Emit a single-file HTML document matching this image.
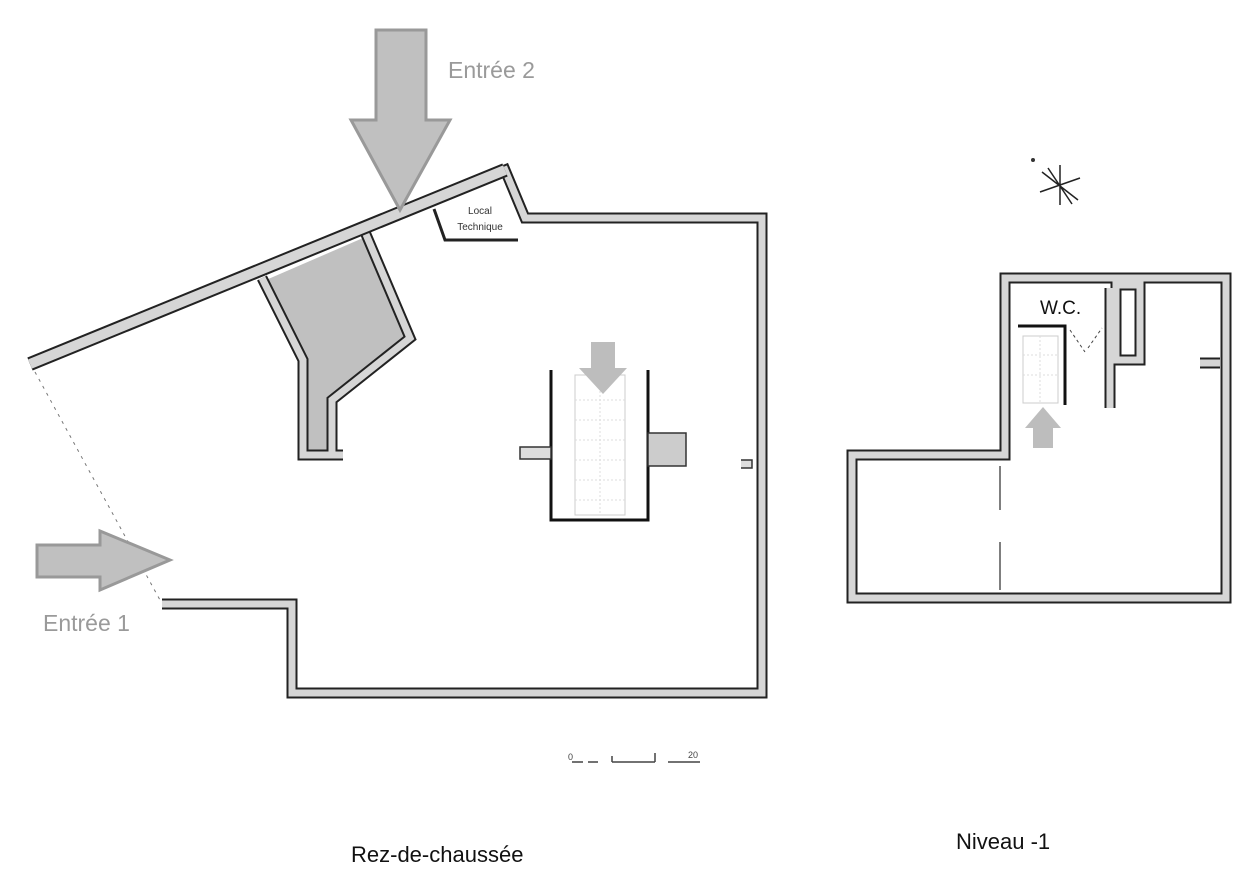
<!DOCTYPE html>
<html><head><meta charset="utf-8"><style>
html,body{margin:0;padding:0;background:#fff;}
svg{display:block;}
text{font-family:"Liberation Sans","DejaVu Sans",sans-serif;}
</style></head><body>
<svg width="1244" height="882" viewBox="0 0 1244 882" xmlns="http://www.w3.org/2000/svg">
<defs>
 <g id="gw">
 <path d="M30,364 L505,170 L525,218 L762,218 L762,693 L292,693 L292,604 L162,604"/>
 <path d="M262,278 L303,360 L303,455 L343,455 M365,232 L410,338 L332,400 L332,452"/>
 <path d="M852,455 L1005,455 L1005,278 L1226,278 L1226,598 L852,598 Z"/>
 <path d="M1110,288 L1110,408 M1116,285 L1140,285 L1140,360 L1116,360 Z M1200,363 L1220,363"/>
 </g>
</defs>
<!-- shaded room -->
<polygon points="266,280 363,238 406,336 328,398 328,452 307,452 307,360" fill="#c0c0c0"/>
<use href="#gw" stroke="#222" stroke-width="11" fill="none"/>
<use href="#gw" stroke="#d6d6d6" stroke-width="7" fill="none"/>
<path d="M30,364 L505,170" stroke="#222" stroke-width="14" fill="none"/>
<path d="M30,364 L505,170" stroke="#d6d6d6" stroke-width="10" fill="none"/>
<!-- local technique -->
<path d="M434,209 L445,240 L518,240" fill="none" stroke="#222" stroke-width="3"/>
<text x="480" y="214" font-size="10" text-anchor="middle" fill="#333">Local</text>
<text x="480" y="230" font-size="10" text-anchor="middle" fill="#333">Technique</text>
<!-- open side dotted -->
<path d="M35,372 L160,600" stroke="#777" stroke-width="1" stroke-dasharray="3,5" fill="none"/>
<!-- stairs ground -->
<rect x="575" y="375" width="50" height="140" fill="none" stroke="#ccc" stroke-width="1"/>
<path d="M600,375 V515 M575,400 H625 M575,420 H625 M575,440 H625 M575,460 H625 M575,480 H625 M575,500 H625" stroke="#ddd" stroke-width="1" stroke-dasharray="2,2"/>
<path d="M551,370 V520 H648 V370" fill="none" stroke="#111" stroke-width="3"/>
<rect x="520" y="447" width="31" height="12" fill="#ddd" stroke="#333" stroke-width="1.5"/>
<rect x="648" y="433" width="38" height="33" fill="#ccc" stroke="#333" stroke-width="1.5"/>
<path d="M741,460 H752 V468 H741" fill="#ddd" stroke="#333" stroke-width="1.5"/>
<polygon points="591,342 615,342 615,368 627,368 603,394 579,368 591,368" fill="#bdbdbd"/>
<!-- big arrows -->
<polygon points="376,30 426,30 426,120 450,120 400,210 351,120 376,120" fill="#c0c0c0" stroke="#999" stroke-width="3"/>
<polygon points="37,545 100,545 100,531 170,560 100,590 100,577 37,577" fill="#c0c0c0" stroke="#999" stroke-width="3"/>
<text x="448" y="78" font-size="23" fill="#9a9a9a">Entrée 2</text>
<text x="43" y="631" font-size="23" fill="#9a9a9a">Entrée 1</text>
<!-- level -1 details -->
<path d="M1018,326 H1065 V405" fill="none" stroke="#111" stroke-width="3"/>
<rect x="1023" y="336" width="35" height="67" fill="none" stroke="#ccc" stroke-width="1"/>
<path d="M1040,336 V403 M1023,355 H1058 M1023,375 H1058" stroke="#ddd" stroke-width="1" stroke-dasharray="2,2"/>
<path d="M1070,330 L1085,352 M1088,348 L1102,328" stroke="#444" stroke-width="1" stroke-dasharray="3,3"/>
<polygon points="1033,448 1053,448 1053,428 1061,428 1043,407 1025,428 1033,428" fill="#bdbdbd"/>
<text x="1040" y="314" font-size="19" fill="#111">W.C.</text>
<path d="M1000,466 V510 M1000,542 V590" stroke="#555" stroke-width="1.5"/>
<!-- compass -->
<g stroke="#222" stroke-width="1.5">
<path d="M1042,172 L1078,200 M1040,192 L1080,178 M1060,165 L1060,205 M1048,168 L1072,204"/>
</g>
<circle cx="1033" cy="160" r="2" fill="#333"/>
<!-- scale -->
<path d="M572,762 H583 M588,762 H598 M612,762 H655 M612,756 V762 M655,753 V762 M668,762 H700" stroke="#444" stroke-width="1.5"/>
<text x="568" y="760" font-size="9" fill="#444">0</text>
<text x="688" y="758" font-size="9" fill="#444">20</text>
<text x="351" y="862" font-size="22" fill="#111">Rez-de-chaussée</text>
<text x="956" y="849" font-size="22" fill="#111">Niveau -1</text>
</svg>
</body></html>
